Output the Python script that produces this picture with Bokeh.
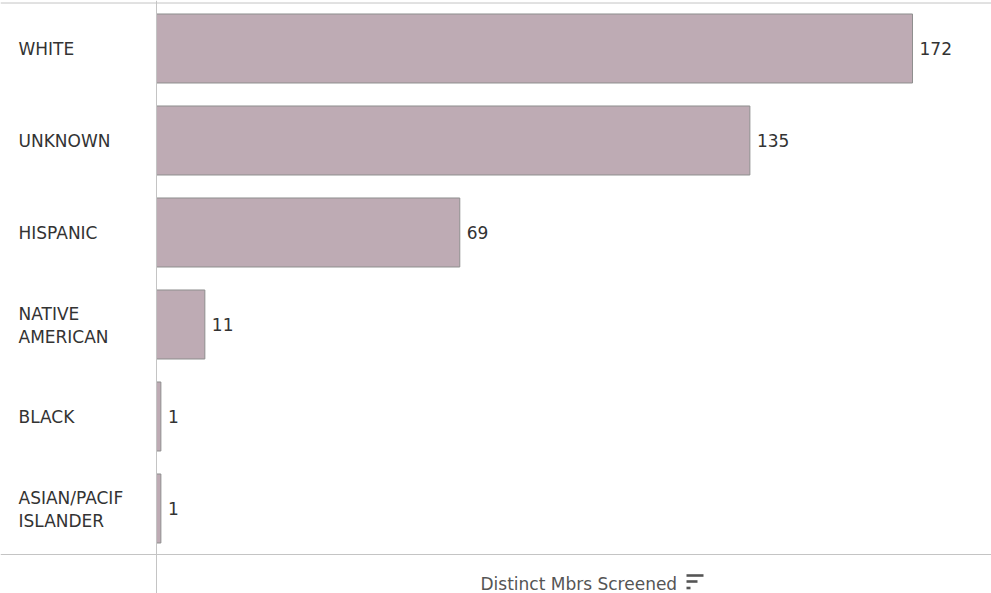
from bokeh.plotting import figure
from bokeh.models import Range1d, Span, ColumnDataSource
from bokeh.embed import file_html
from bokeh.resources import INLINE
from bokeh.core.properties import value

# ---- data ----
categories = ["WHITE", "UNKNOWN", "HISPANIC", "NATIVE\nAMERICAN", "BLACK", "ASIAN/PACIF\nISLANDER"]
values = [172, 135, 69, 11, 1, 1]
axis_title = "Distinct Mbrs Screened"

# ---- layout ----
W, H = 991, 593
X_START, X_END = -35.49, 189.97
Y_TOP, Y_BOTTOM = -0.5217, 5.924
FONT = value("DejaVu Sans")
FS = "17px"

def px_x(px):
    return X_START + px * (X_END - X_START) / W

def px_y(py):
    return Y_TOP + py * (Y_BOTTOM - Y_TOP) / H

ypos = list(range(len(categories)))
src = ColumnDataSource(dict(
    y=ypos, cat=categories, val=values, lab=[str(v) for v in values]
))

p = figure(width=W, height=H, output_backend="svg", toolbar_location=None,
           x_range=Range1d(X_START, X_END), y_range=Range1d(Y_BOTTOM, Y_TOP),
           min_border=0, min_border_left=0, min_border_right=0,
           min_border_top=0, min_border_bottom=0)
p.axis.visible = False
p.grid.visible = False
p.outline_line_color = None
p.background_fill_color = "white"
p.border_fill_color = "white"

grey = "#C4C4C4"
p.add_layout(Span(location=0, dimension="height", line_color=grey, line_width=1))
p.add_layout(Span(location=px_y(2.5), dimension="width", line_color=grey, line_width=1))
p.add_layout(Span(location=len(categories) - 0.5, dimension="width", line_color=grey, line_width=1))

p.hbar(y="y", left=0, right="val", height=0.75, source=src,
       fill_color="#BEABB4", line_color="#8F8F8F", line_width=1)

p.text(x=X_START, y="y", text="cat", source=src, x_offset=18, y_offset=1,
       text_align="left", text_baseline="middle", text_font=FONT,
       text_font_size=FS, text_color="#333333", text_line_height=1.15)

p.text(x="val", y="y", text="lab", source=src, x_offset=7,
       text_align="left", text_baseline="middle", text_font=FONT,
       text_font_size=FS, text_color="#333333")

# axis title with sort icon
p.text(x=[px_x(480)], y=[px_y(583)], text=[axis_title], text_align="left",
       text_baseline="middle", text_font=FONT, text_font_size=FS,
       text_color="#555555")
icon_left = 686
icon_w = [17, 11, 4]
icon_y = [575, 581, 587.5]
p.block(x=[px_x(icon_left)] * 3, y=[px_y(v + 1.3) for v in icon_y],
        width=[w * (X_END - X_START) / W for w in icon_w],
        height=[2.6 * (Y_BOTTOM - Y_TOP) / H] * 3,
        fill_color="#555555", line_color=None)

open("out.html", "w").write(file_html(p, INLINE))
